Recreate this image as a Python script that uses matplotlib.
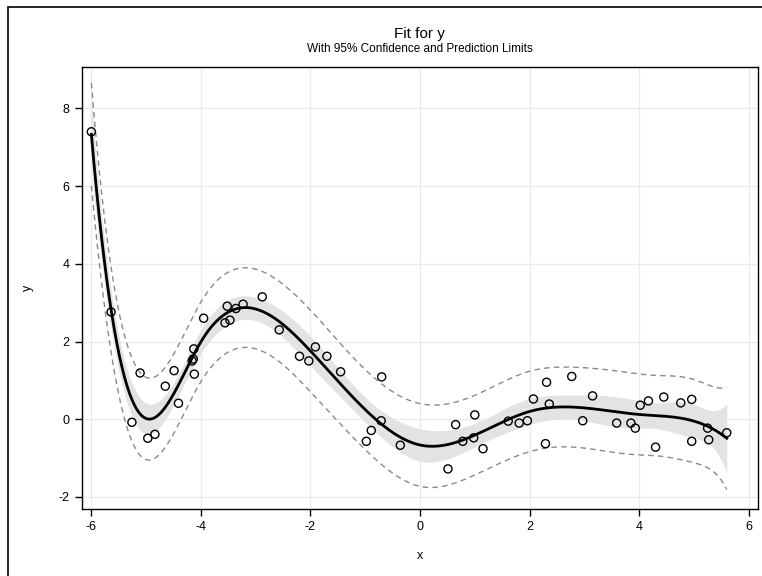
import numpy as np
import matplotlib
matplotlib.use("Agg")
import matplotlib.pyplot as plt
from matplotlib.patches import Rectangle

plt.rcParams['font.family'] = ['Liberation Sans', 'DejaVu Sans']
plt.rcParams['axes.unicode_minus'] = False

# observed data
x_obs = [-6.00, -5.64, -5.26, -5.11, -4.97, -4.84, -4.65, -4.49, -4.41, -4.16,
         -4.14, -4.13, -4.12, -3.95, -3.56, -3.52, -3.47, -3.36, -3.23, -2.88,
         -2.57, -2.20, -2.03, -1.91, -1.70, -1.45, -0.98, -0.89, -0.71, -0.70,
         -0.36, 0.51, 0.65, 0.78, 0.98, 1.00, 1.15, 1.61, 1.81, 1.96,
         2.07, 2.29, 2.31, 2.36, 2.77, 2.97, 3.15, 3.59, 3.85, 3.93,
         4.02, 4.17, 4.30, 4.45, 4.76, 4.96, 4.96, 5.25, 5.27, 5.60]
y_obs = [7.40, 2.76, -0.08, 1.19, -0.49, -0.39, 0.85, 1.25, 0.41, 1.50,
         1.55, 1.81, 1.16, 2.60, 2.48, 2.91, 2.55, 2.85, 2.96, 3.15,
         2.30, 1.62, 1.50, 1.86, 1.62, 1.22, -0.57, -0.29, -0.04, 1.09,
         -0.67, -1.28, -0.14, -0.57, -0.48, 0.11, -0.76, -0.05, -0.10, -0.04,
         0.52, -0.63, 0.95, 0.39, 1.10, -0.04, 0.60, -0.10, -0.10, -0.23,
         0.36, 0.47, -0.72, 0.57, 0.42, 0.51, -0.57, -0.23, -0.53, -0.35]

knots = [-4, -2, 0, 2, 4]
x_ticks = [-6, -4, -2, 0, 2, 4, 6]
y_ticks = [-2, 0, 2, 4, 6, 8]

x = np.array(x_obs)
y = np.array(y_obs)


def basis(v):
    cols = [np.ones_like(v), v, v**2, v**3]
    for k in knots:
        cols.append(np.clip(v - k, 0, None)**3)
    return np.column_stack(cols)


# cubic regression spline, least squares
X = basis(x)
beta, *_ = np.linalg.lstsq(X, y, rcond=None)
n, p = X.shape
resid = y - X @ beta
s2 = resid @ resid / (n - p)
XtX_inv = np.linalg.pinv(X.T @ X)
t_crit = 2.01

xg = np.linspace(x.min(), x.max(), 500)
G = basis(xg)
fit = G @ beta
var_mean = s2 * np.einsum('ij,jk,ik->i', G, XtX_inv, G)
clm = t_crit * np.sqrt(var_mean)
cli = t_crit * np.sqrt(var_mean + s2)

fig = plt.figure(figsize=(7.62, 5.76), dpi=100)
fig.patches.append(Rectangle((7.5 / 762, -0.05), 1.1, 1.05 - 6.5 / 576, transform=fig.transFigure,
                             fill=False, edgecolor='black', linewidth=1.2))

ax = fig.add_axes([81.5 / 762, 66.7 / 576, 676.5 / 762, 442.8 / 576])
ax.fill_between(xg, fit - clm, fit + clm, color='#e3e3e3', linewidth=0, zorder=1)
ax.plot(xg, fit + cli, color='#8a8a8a', linestyle=(0, (4, 3)), linewidth=1, zorder=2)
ax.plot(xg, fit - cli, color='#8a8a8a', linestyle=(0, (4, 3)), linewidth=1, zorder=2)
ax.plot(xg, fit, color='black', linewidth=2, zorder=3)
ax.scatter(x, y, s=34, facecolors='none', edgecolors='black', linewidths=1, zorder=4)

ax.set_xlim(-6.18, 6.17)
ax.set_ylim(-2.32, 9.08)
ax.set_xticks(x_ticks)
ax.set_yticks(y_ticks)
ax.grid(True, color='#ebebeb', linewidth=1)
ax.set_axisbelow(True)
ax.tick_params(direction='out', length=5, width=1, labelsize=9, colors='black')
for sp in ax.spines.values():
    sp.set_linewidth(1)
ax.set_xlabel('x', fontsize=9, labelpad=12)
ax.set_ylabel('y', fontsize=9, labelpad=18)

fig.text(0.551, 1 - 34 / 576, 'Fit for y', ha='center', va='center', fontsize=11)
fig.text(0.551, 1 - 49 / 576, 'With 95% Confidence and Prediction Limits',
         ha='center', va='center', fontsize=8.5)

fig.savefig('out.png', dpi=100)
